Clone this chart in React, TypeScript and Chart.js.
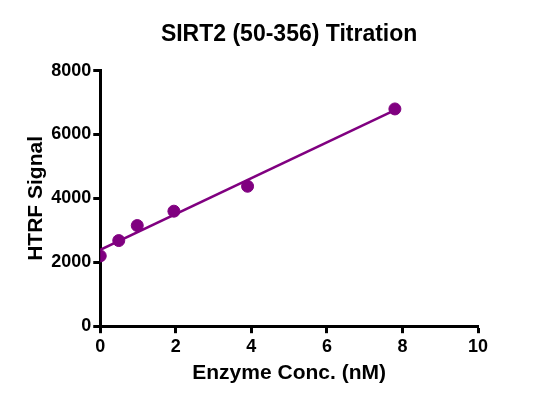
import React, { useEffect, useRef } from 'react';
import Chart from 'chart.js/auto';

// concentrations (nM) and measured HTRF signal
const enzymeConc = [0, 0.49, 0.98, 1.95, 3.9, 7.8];
const htrfSignal = [2200, 2680, 3150, 3600, 4380, 6800];

// linear fit line endpoints
const fitConc = [0, 7.8];
const fitSignal = [2390, 6760];

const xTicks = [0, 2, 4, 6, 8, 10];
const yTicks = [0, 2000, 4000, 6000, 8000];

const PURPLE = '#800080';
const FONT = "Arial, 'Liberation Sans', sans-serif";

export default function App() {
  const canvasRef = useRef<HTMLCanvasElement | null>(null);

  useEffect(() => {
    document.body.style.margin = '0';
    if (!canvasRef.current) return;

    const tickFont = { family: FONT, size: 18, weight: 'bold' as const };
    const axisTitleFont = { family: FONT, size: 21, weight: 'bold' as const };

    const chart = new Chart(canvasRef.current, {
      type: 'scatter',
      data: {
        datasets: [
          {
            label: 'fit',
            type: 'line',
            data: fitConc.map((x, i) => ({ x, y: fitSignal[i] })),
            borderColor: PURPLE,
            borderWidth: 2.5,
            pointRadius: 0,
            fill: false,
          },
          {
            label: 'data',
            data: enzymeConc.map((x, i) => ({ x, y: htrfSignal[i] })),
            backgroundColor: PURPLE,
            borderColor: PURPLE,
            pointRadius: 6,
          },
        ],
      },
      options: {
        responsive: false,
        animation: false,
        layout: { padding: { left: 24, right: 58, top: 0, bottom: 13 } },
        plugins: {
          legend: { display: false },
          tooltip: { enabled: false },
          title: {
            display: true,
            fullSize: false,
            text: 'SIRT2 (50-356) Titration',
            color: '#000',
            font: { family: FONT, size: 23, weight: 'bold' },
            padding: { top: 21, bottom: 22 },
          },
        },
        scales: {
          x: {
            type: 'linear',
            min: 0,
            max: 10,
            afterBuildTicks: axis => {
              axis.ticks = xTicks.map(value => ({ value }));
            },
            border: { display: true, color: '#000', width: 3 },
            grid: { drawOnChartArea: false, drawTicks: true, tickLength: 7, tickWidth: 3, tickColor: '#000' },
            ticks: { color: '#000', font: tickFont, padding: 3, callback: v => String(v) },
            title: {
              display: true,
              text: 'Enzyme Conc. (nM)',
              color: '#000',
              font: axisTitleFont,
              padding: { top: 0, bottom: 4 },
            },
          },
          y: {
            type: 'linear',
            min: 0,
            max: 8000,
            afterBuildTicks: axis => {
              axis.ticks = yTicks.map(value => ({ value }));
            },
            border: { display: true, color: '#000', width: 3 },
            grid: { drawOnChartArea: false, drawTicks: true, tickLength: 7, tickWidth: 3, tickColor: '#000' },
            ticks: { color: '#000', font: tickFont, padding: 2, callback: v => String(v) },
            title: {
              display: true,
              text: 'HTRF Signal',
              color: '#000',
              font: axisTitleFont,
              padding: { top: 0, bottom: 0 },
            },
          },
        },
      },
    });

    return () => chart.destroy();
  }, []);

  return (
    <div style={{ width: 536, height: 403, background: '#fff' }}>
      <canvas ref={canvasRef} width={536} height={403} />
    </div>
  );
}
